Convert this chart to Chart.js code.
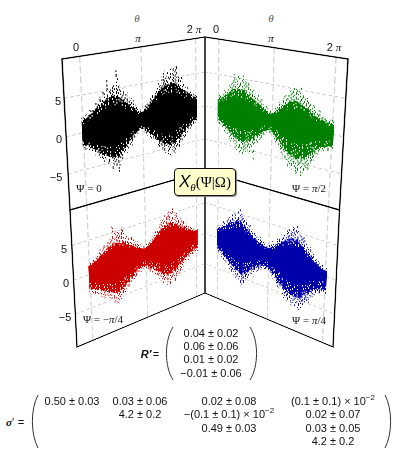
<!DOCTYPE html>
<html><head><meta charset="utf-8">
<script src="https://cdn.jsdelivr.net/npm/chart.js@4"></script>
<style>
html,body{margin:0;padding:0;background:#fff;width:395px;height:476px;overflow:hidden}
#stage{position:relative;width:395px;height:476px;font:11px "Liberation Sans",sans-serif;color:#111}
canvas{position:absolute;left:0;top:0;transform-origin:0 0}
.t{position:absolute;transform:translate(-50%,-50%);white-space:nowrap;line-height:1}
.m{font-family:"Liberation Serif",serif}
.g{color:#555}
i.s{font-family:"Liberation Serif",serif}
sup{font-size:8px;line-height:0}
#spine{position:absolute;left:204px;top:37px;width:2px;height:256px;background:#444}
#badge{position:absolute;left:174px;top:168px;width:60px;height:26px;background:#ffffcc;border:1.5px solid #111;border-radius:4px;box-shadow:1px 1px 1px #888;text-align:center;font:15px/26px "Liberation Serif",serif;color:#000}
#badge b{font:italic 17px "Liberation Sans",sans-serif}
#badge sub{font:italic 11px "Liberation Serif",serif;line-height:0}
svg{position:absolute;left:0;top:0}
</style></head><body><div id="stage"></div>
<script>
const thetas=[0,.1,.2,.3,.4,.5,.6,.7,.8,.9,1,1.1,1.2,1.3,1.4,1.5,1.6,1.7,1.8,1.9,2,2.1,2.2,2.3,2.4,2.5,2.6,2.7,2.8,2.9,3,3.1,3.2,3.3,3.4,3.5,3.6,3.7,3.8,3.9,4,4.1,4.2,4.3,4.4,4.5,4.6,4.7,4.8,4.9,5,5.1,5.2,5.3,5.4,5.5,5.6,5.7,5.8,5.9,6,6.1,6.2,6.3];
const gridTheta=[0,3.14159,6.28318];
// black, Psi = 0
const blackOuterHi=[2.0,1.9,2.4,2.2,2.8,3.1,2.9,3.6,3.4,4.3,4.1,4.9,4.4,6.3,5.2,5.0,5.6,5.1,7.4,5.3,4.6,4.9,4.0,4.2,3.4,3.0,3.3,2.4,2.1,1.6,1.2,1.5,1.3,1.9,2.2,2.0,2.9,3.1,2.8,3.7,4.0,4.6,4.3,5.5,6.2,5.2,5.9,5.4,6.3,6.6,6.1,6.5,5.0,4.7,4.9,3.9,3.6,3.2,3.3,2.7,2.4,2.2,1.8,1.9];
const blackOuterLo=[-2.0,-2.3,-1.9,-2.6,-2.9,-3.0,-3.4,-3.1,-3.9,-4.2,-4.6,-4.1,-5.0,-5.3,-4.8,-6.0,-5.2,-5.6,-6.6,-5.1,-4.9,-4.2,-4.4,-3.6,-3.1,-3.3,-2.6,-2.2,-2.0,-1.8,-1.4,-1.6,-1.3,-2.0,-2.4,-2.1,-3.0,-2.8,-3.6,-3.4,-4.2,-4.7,-4.4,-5.1,-5.6,-5.0,-5.9,-6.3,-5.4,-5.8,-6.0,-5.2,-4.9,-5.3,-4.4,-4.0,-3.9,-3.5,-3.1,-2.9,-2.6,-2.4,-2.2,-2.1];
const blackCoreHi=[1.6,1.7,1.8,2.0,2.2,2.4,2.6,2.8,3.0,3.2,3.4,3.6,3.7,3.9,3.8,4.0,4.1,3.9,4.1,3.7,3.4,3.3,3.0,2.8,2.5,2.2,2.0,1.8,1.5,1.3,1.0,1.1,1.1,1.4,1.7,1.8,2.2,2.4,2.6,3.0,3.3,3.5,3.7,3.9,4.2,4.1,4.3,4.1,4.4,4.2,4.1,3.9,3.7,3.6,3.3,3.0,2.8,2.5,2.3,2.1,1.9,1.7,1.6,1.5];
const blackCoreLo=[-1.7,-1.8,-1.7,-2.1,-2.3,-2.5,-2.7,-2.7,-3.2,-3.3,-3.6,-3.5,-3.9,-4.1,-4.0,-4.3,-4.2,-4.3,-4.4,-4.0,-3.7,-3.4,-3.2,-2.9,-2.5,-2.4,-2.0,-1.8,-1.6,-1.4,-1.1,-1.3,-1.1,-1.6,-1.9,-1.8,-2.4,-2.5,-2.9,-3.0,-3.4,-3.7,-3.8,-4.1,-4.3,-4.2,-4.5,-4.6,-4.3,-4.5,-4.4,-4.1,-3.9,-3.9,-3.4,-3.2,-3.0,-2.7,-2.5,-2.3,-2.1,-2.0,-1.8,-1.8];
const blackInner=[1.1,1.2,1.3,1.4,1.5,1.7,1.8,2.0,2.1,2.2,2.4,2.5,2.6,2.7,2.7,2.8,2.8,2.7,2.7,2.5,2.4,2.2,2.0,1.9,1.7,1.5,1.3,1.2,1.0,.9,.8,.8,.8,1.0,1.2,1.3,1.5,1.7,1.9,2.1,2.3,2.5,2.6,2.8,2.9,3.0,3.0,2.9,2.9,2.9,2.8,2.6,2.5,2.3,2.2,2.0,1.8,1.7,1.5,1.4,1.3,1.2,1.1,1.1];
// green, Psi = pi/2
const greenOuterHi=[1.8,2.1,2.0,2.6,2.9,3.3,3.1,4.0,4.4,5.7,5.0,4.6,5.3,4.9,5.2,5.6,4.7,4.3,4.6,3.9,3.6,3.8,3.0,3.2,2.5,2.7,2.0,1.7,1.9,1.4,1.3,1.6,1.4,2.0,2.3,2.8,2.6,3.4,3.9,3.6,4.4,4.9,4.6,5.4,5.0,4.8,5.3,4.5,4.2,3.9,4.1,3.4,3.1,3.3,2.7,2.5,2.8,2.2,2.0,2.1,1.8,1.9,1.7,1.9];
const greenOuterLo=[-1.9,-2.2,-2.6,-2.4,-3.1,-3.5,-3.3,-4.1,-4.5,-4.3,-5.2,-5.7,-5.1,-6.0,-5.5,-5.8,-5.0,-5.4,-4.9,-5.6,-4.4,-6.4,-4.0,-3.7,-3.3,-2.9,-2.8,-2.2,-2.1,-1.7,-1.8,-1.9,-2.1,-2.6,-3.0,-3.3,-3.7,-4.2,-4.7,-5.0,-5.3,-6.0,-5.7,-6.2,-5.9,-6.6,-6.1,-5.8,-7.3,-6.0,-5.4,-5.6,-4.8,-4.3,-4.1,-3.6,-3.2,-3.0,-2.6,-2.7,-2.3,-2.4,-2.1,-2.1];
const greenCoreHi=[1.4,1.5,1.6,1.9,2.1,2.4,2.5,2.8,3.1,3.3,3.4,3.3,3.5,3.4,3.5,3.5,3.2,3.0,3.0,2.7,2.5,2.4,2.2,2.1,1.9,1.8,1.5,1.3,1.2,1.0,.9,1.0,1.1,1.3,1.6,1.9,2.0,2.4,2.6,2.7,3.0,3.2,3.2,3.4,3.4,3.3,3.3,3.1,2.9,2.7,2.7,2.4,2.2,2.2,1.9,1.8,1.8,1.6,1.5,1.5,1.4,1.4,1.3,1.3];
const greenCoreLo=[-1.6,-1.7,-1.9,-2.0,-2.3,-2.5,-2.6,-2.9,-3.2,-3.3,-3.6,-3.8,-3.7,-4.0,-3.9,-4.0,-3.7,-3.8,-3.6,-3.6,-3.2,-3.4,-2.8,-2.6,-2.4,-2.2,-2.0,-1.7,-1.6,-1.4,-1.4,-1.5,-1.6,-1.9,-2.2,-2.5,-2.7,-3.0,-3.4,-3.6,-3.8,-4.1,-4.1,-4.4,-4.3,-4.5,-4.4,-4.2,-4.5,-4.2,-3.9,-3.8,-3.4,-3.1,-2.9,-2.6,-2.4,-2.2,-2.0,-2.0,-1.8,-1.8,-1.7,-1.7];
const greenInner=[1.0,1.1,1.2,1.3,1.4,1.5,1.7,1.8,2.0,2.1,2.2,2.2,2.3,2.3,2.3,2.3,2.2,2.1,2.0,1.9,1.8,1.7,1.5,1.4,1.3,1.2,1.0,.9,.9,.8,.8,.8,.8,1.0,1.1,1.3,1.4,1.6,1.8,1.9,2.1,2.2,2.3,2.3,2.4,2.4,2.3,2.2,2.2,2.0,1.9,1.8,1.6,1.5,1.3,1.2,1.2,1.1,1.0,1.0,1.0,1.0,.9,.9];
// red, Psi = -pi/4
const redOuterHi=[1.7,1.6,2.0,1.9,2.5,2.6,3.1,2.9,3.5,3.2,3.9,4.1,4.7,5.9,5.0,4.4,4.9,4.2,5.3,4.5,4.0,3.7,3.3,3.5,2.9,2.4,2.6,2.0,1.8,1.5,1.4,1.2,1.6,1.5,2.0,2.4,2.2,3.0,3.3,3.1,4.1,4.5,4.3,5.0,4.8,5.4,5.6,5.0,5.7,4.6,4.9,4.0,3.8,3.4,3.1,3.2,2.6,2.3,2.1,1.9,1.6,1.5,1.2,1.1];
const redOuterLo=[-2.6,-3.0,-2.8,-3.3,-3.5,-3.2,-3.9,-4.1,-4.4,-3.9,-4.7,-5.0,-4.6,-5.6,-5.2,-6.0,-5.1,-5.4,-4.8,-4.9,-4.1,-4.4,-3.7,-3.1,-3.4,-2.8,-2.6,-2.2,-2.4,-2.1,-2.0,-2.3,-2.0,-2.6,-3.0,-3.3,-3.1,-3.9,-4.2,-4.6,-4.4,-5.0,-5.5,-5.2,-6.1,-5.6,-6.3,-5.8,-5.4,-5.9,-5.2,-4.9,-4.6,-4.9,-4.1,-3.6,-3.2,-3.5,-2.9,-2.7,-2.6,-2.5,-2.3,-2.4];
const redCoreHi=[1.3,1.3,1.5,1.6,1.9,2.0,2.2,2.3,2.5,2.6,2.9,3.0,3.2,3.4,3.3,3.2,3.2,3.0,3.1,2.9,2.7,2.5,2.3,2.2,2.0,1.8,1.7,1.4,1.3,1.1,1.0,1.0,1.1,1.2,1.5,1.7,1.8,2.2,2.4,2.5,2.9,3.1,3.2,3.4,3.4,3.6,3.6,3.5,3.6,3.2,3.1,2.8,2.7,2.4,2.2,2.1,1.9,1.7,1.5,1.4,1.2,1.1,1.0,.9];
const redCoreLo=[-2.1,-2.3,-2.3,-2.5,-2.7,-2.7,-3.0,-3.1,-3.3,-3.2,-3.6,-3.8,-3.7,-4.1,-4.0,-4.2,-3.9,-4.0,-3.7,-3.6,-3.3,-3.3,-2.9,-2.6,-2.6,-2.2,-2.0,-1.8,-1.8,-1.7,-1.6,-1.7,-1.7,-2.0,-2.3,-2.5,-2.6,-3.0,-3.2,-3.5,-3.5,-3.9,-4.1,-4.1,-4.4,-4.3,-4.5,-4.4,-4.1,-4.2,-3.9,-3.7,-3.5,-3.5,-3.1,-2.8,-2.6,-2.6,-2.3,-2.2,-2.1,-2.0,-1.9,-1.9];
const redInner=[1.2,1.3,1.4,1.5,1.6,1.7,1.9,2.0,2.2,2.3,2.4,2.5,2.6,2.7,2.7,2.7,2.6,2.5,2.5,2.3,2.2,2.1,1.9,1.8,1.6,1.4,1.3,1.1,1.1,1.0,.9,.9,1.0,1.1,1.2,1.4,1.5,1.8,2.0,2.1,2.3,2.5,2.6,2.7,2.8,2.8,2.9,2.8,2.7,2.6,2.5,2.3,2.2,2.0,1.8,1.7,1.6,1.4,1.3,1.2,1.1,1.0,1.0,1.0];
// blue, Psi = pi/4
const blueOuterHi=[1.9,2.2,2.0,2.7,3.0,2.8,3.4,3.9,3.6,4.5,4.2,5.0,4.7,5.4,5.7,5.1,4.5,4.8,4.1,3.7,3.9,3.2,2.9,3.0,2.4,2.2,2.5,2.0,1.9,1.7,1.8,1.6,1.9,2.1,2.5,2.3,3.0,3.3,3.1,3.9,4.3,4.0,4.8,5.2,4.9,5.6,5.0,6.0,5.4,4.7,4.4,4.6,3.8,3.3,3.5,2.8,2.6,2.1,2.0,1.8,1.4,1.5,1.1,1.2];
const blueOuterLo=[-2.0,-2.4,-2.2,-2.9,-3.2,-3.6,-3.4,-4.0,-4.3,-4.8,-4.5,-5.3,-5.6,-5.0,-5.9,-6.4,-5.4,-5.7,-4.9,-5.0,-4.2,-3.8,-4.1,-3.3,-2.9,-3.1,-2.5,-2.6,-2.3,-2.2,-2.4,-2.1,-2.5,-2.8,-3.2,-3.0,-3.7,-4.2,-4.6,-4.4,-5.1,-5.6,-5.2,-5.9,-5.5,-6.2,-5.8,-6.1,-5.7,-6.6,-6.4,-5.5,-5.0,-4.7,-4.9,-4.1,-3.7,-3.5,-3.0,-2.9,-2.8,-2.6,-2.4,-2.5];
const blueCoreHi=[1.5,1.6,1.7,2.0,2.2,2.3,2.6,2.9,3.0,3.3,3.3,3.5,3.6,3.8,3.9,3.7,3.4,3.3,3.0,2.8,2.6,2.3,2.1,2.0,1.7,1.6,1.6,1.4,1.3,1.2,1.2,1.2,1.3,1.5,1.7,1.8,2.2,2.4,2.5,2.9,3.1,3.2,3.5,3.7,3.7,3.9,3.8,4.0,3.8,3.4,3.2,3.0,2.7,2.4,2.3,2.0,1.7,1.5,1.4,1.2,1.0,.9,.8,.8];
const blueCoreLo=[-1.7,-1.9,-1.9,-2.2,-2.5,-2.7,-2.8,-3.1,-3.3,-3.6,-3.6,-3.9,-4.1,-4.1,-4.4,-4.5,-4.1,-4.2,-3.7,-3.6,-3.3,-3.0,-3.0,-2.6,-2.3,-2.3,-2.0,-1.9,-1.8,-1.7,-1.7,-1.7,-1.9,-2.1,-2.4,-2.5,-2.9,-3.2,-3.5,-3.6,-3.9,-4.2,-4.2,-4.5,-4.5,-4.7,-4.6,-4.7,-4.5,-4.7,-4.5,-4.1,-3.8,-3.5,-3.5,-3.1,-2.8,-2.6,-2.4,-2.3,-2.2,-2.1,-2.0,-2.0];
const blueInner=[1.1,1.2,1.3,1.4,1.5,1.7,1.8,2.0,2.1,2.3,2.4,2.5,2.6,2.7,2.8,2.7,2.5,2.4,2.2,2.1,1.9,1.8,1.6,1.5,1.3,1.2,1.2,1.0,1.0,.9,.9,.9,1.0,1.1,1.3,1.4,1.6,1.8,1.9,2.1,2.3,2.4,2.6,2.7,2.8,2.9,2.8,2.9,2.8,2.6,2.4,2.3,2.1,1.9,1.7,1.5,1.4,1.2,1.1,1.0,.9,.8,.8,.8];

const yRange=[-10,10], xRange=[-0.85,6.85];
const FLAT=300, PAD=8;
const denseTile=["###.####.###.###","#.######.#######","####.###.##.####","###.#####.###.##",".#######.###.###","####.#.#####.###","#.#####.####.#.#","####.####.##.###","##.#####.#######","#####.###.#.####","###.###.####.###","#.#####.###.####","#####.######.###","##.####.##.#####"];
const sparseTile=[".#..#...#.....#.","#...#.#....#....","..#.....#..#...#",".#..#.....#..#..","....#.#..#.....#","#.#.....#...#...","..#..#.....#..#.",".#....#.#.....#.","#...#...#.#.....","..#...#....#.#..",".#..#..#......#.","#.....#..#.#....","..#.#.....#...#.","#....#.#.....#.."];

function pair(lo,hi){return thetas.map((t,i)=>({x:t,y:[lo[i],hi[i]]}));}
function sym(v){return thetas.map((t,i)=>({x:t,y:[-v[i],v[i]]}));}
function tile(col,rows){const cw=2,ch=3,c=document.createElement('canvas');c.width=rows[0].length*cw;c.height=rows.length*ch;const g=c.getContext('2d');g.fillStyle=col;
  rows.forEach((r,j)=>[...r].forEach((s,i)=>{if(s==='#')g.fillRect(i*cw,j*ch,cw,ch);}));return g.createPattern(c,'repeat');}
function homography(a,s,q){
  const [x0,y0]=q[0],[x1,y1]=q[1],[x2,y2]=q[2],[x3,y3]=q[3];
  const dx1=x1-x2,dx2=x3-x2,dy1=y1-y2,dy2=y3-y2,sx=x0-x1+x2-x3,sy=y0-y1+y2-y3;
  const d=dx1*dy2-dx2*dy1,g=(sx*dy2-dx2*sy)/d,h=(dx1*sy-sx*dy1)/d;
  const A=x1-x0+g*x1,B=x3-x0+h*x3,C=x0,D=y1-y0+g*y1,E=y3-y0+h*y3,F=y0;
  const ga=g/s,ha=h/s,i2=1-(g+h)*a/s;
  const a1=A/s,b1=B/s,c1=C-(A+B)*a/s,d1=D/s,e1=E/s,f1=F-(D+E)*a/s;
  return `matrix3d(${[a1,d1,0,ga, b1,e1,0,ha, 0,0,1,0, c1,f1,0,i2].join(',')})`;
}
const framePlugin={id:'frame',afterDatasetsDraw(ch){const {ctx,chartArea:a}=ch;ctx.save();ctx.strokeStyle='#000';ctx.lineWidth=2.4;ctx.strokeRect(a.left,a.top,a.right-a.left,a.bottom-a.top);ctx.restore();}};

const stage=document.getElementById('stage');
function panel(quad,color,oLo,oHi,cLo,cHi,inner){
  const cv=document.createElement('canvas');cv.width=FLAT;cv.height=FLAT;cv.style.width=FLAT+'px';cv.style.height=FLAT+'px';
  stage.appendChild(cv);
  const ctx=cv.getContext('2d');
  new Chart(ctx,{type:'bar',
    data:{datasets:[
      {data:sym(inner),backgroundColor:color,barThickness:3.9,grouped:false,order:1},
      {data:pair(cLo,cHi),backgroundColor:tile(color,denseTile),barThickness:3.9,grouped:false,order:2},
      {data:pair(oLo,oHi),backgroundColor:tile(color,sparseTile),barThickness:3.9,grouped:false,order:3}
    ]},
    plugins:[framePlugin],
    options:{responsive:false,animation:false,devicePixelRatio:1,
      layout:{padding:PAD},
      plugins:{legend:{display:false},tooltip:{enabled:false}},
      scales:{
        x:{type:'linear',min:xRange[0],max:xRange[1],offset:false,
           afterBuildTicks(s){s.ticks=gridTheta.map(v=>({value:v}));},
           ticks:{display:false},border:{display:false,dash:[12,6]},
           grid:{color:'#d4d4d4',lineWidth:2.4,drawTicks:false,offset:false}},
        y:{min:yRange[0],max:yRange[1],
           ticks:{display:false,stepSize:5},border:{display:false,dash:[6,5]},
           grid:{color:'#c8c8c8',lineWidth:1.8,drawTicks:false}}
      }}});
  cv.style.transform=homography(PAD,FLAT-2*PAD,quad);
}
panel([[62,59],[205,37],[205,171],[70,210]],'#000000',blackOuterLo,blackOuterHi,blackCoreLo,blackCoreHi,blackInner);
panel([[205,37],[348,59],[339.5,210],[205,171]],'#008000',greenOuterLo,greenOuterHi,greenCoreLo,greenCoreHi,greenInner);
panel([[70,210],[205,171],[205,293],[77,347]],'#cc0000',redOuterLo,redOuterHi,redCoreLo,redCoreHi,redInner);
panel([[205,171],[339.5,210],[333,347],[205,293]],'#0000aa',blueOuterLo,blueOuterHi,blueCoreLo,blueCoreHi,blueInner);

function text(x,y,html,cls){const e=document.createElement('div');e.className='t '+(cls||'');e.style.left=x+'px';e.style.top=y+'px';e.innerHTML=html;stage.appendChild(e);}
const pi='<i class="s">π</i>';
const spine=document.createElement('div');spine.id='spine';stage.appendChild(spine);
const badge=document.createElement('div');badge.id='badge';badge.innerHTML='<b>X</b><sub>θ</sub>(Ψ|Ω)';stage.appendChild(badge);

[[137,18],[271,18]].forEach(p=>text(p[0],p[1],'<i class="s">θ</i>','g'));
[[76,47,'0'],[138,38,pi],[194,29,'2 '+pi],[216,29,'0'],[271,38,pi],[334,47,'2 '+pi]].forEach(p=>text(p[0],p[1],p[2]));
[[58,101,'5'],[59,139,'0'],[56,177,'−5'],[64,249,'5'],[66,283,'0'],[65,317,'−5']].forEach(p=>text(p[0],p[1],p[2]));
text(89,188,'Ψ = 0','m');text(309,188,'Ψ = <i>π</i>/2','m');text(103,319,'Ψ = −<i>π</i>/4','m');text(309,320,'Ψ = <i>π</i>/4','m');

const rRows=['0.04 ± 0.02','0.06 ± 0.06','0.01 ± 0.02','−0.01 ± 0.06'];
const rY=[333,346,359,373];
rRows.forEach((r,i)=>text(211,rY[i],r));
text(146,354,'<b><i>R′</i></b>');text(156,354,'=');
const sigmaRows=[
 [[72,'0.50 ± 0.03'],[140,'0.03 ± 0.06'],[229,'0.02 ± 0.08'],[333,'(0.1 ± 0.1) × 10<sup>−2</sup>']],
 [[140,'4.2 ± 0.2'],[229,'−(0.1 ± 0.1) × 10<sup>−2</sup>'],[333,'0.02 ± 0.07']],
 [[229,'0.49 ± 0.03'],[333,'0.03 ± 0.05']],
 [[333,'4.2 ± 0.2']]];
const sY=[401,414,428,441];
sigmaRows.forEach((row,i)=>row.forEach(c=>text(c[0],sY[i],c[1])));
text(10,422,'<i class="s"><b>σ</b></i>′');text(21,422,'=');

const svgNS='http://www.w3.org/2000/svg';
const svg=document.createElementNS(svgNS,'svg');svg.setAttribute('width',395);svg.setAttribute('height',476);
[[173,166,327,380],[250,257,327,380],[38,32,395,448],[385,391,395,448]].forEach(p=>{
  const path=document.createElementNS(svgNS,'path');
  const [xe,xm,y0,y1]=p,c=xm+(xm-xe)*0.25;
  path.setAttribute('d',`M${xe} ${y0} C${c} ${y0+14} ${c} ${y1-14} ${xe} ${y1}`);
  path.setAttribute('fill','none');path.setAttribute('stroke','#333');path.setAttribute('stroke-width','1');
  svg.appendChild(path);
});
stage.appendChild(svg);
</script></body></html>
